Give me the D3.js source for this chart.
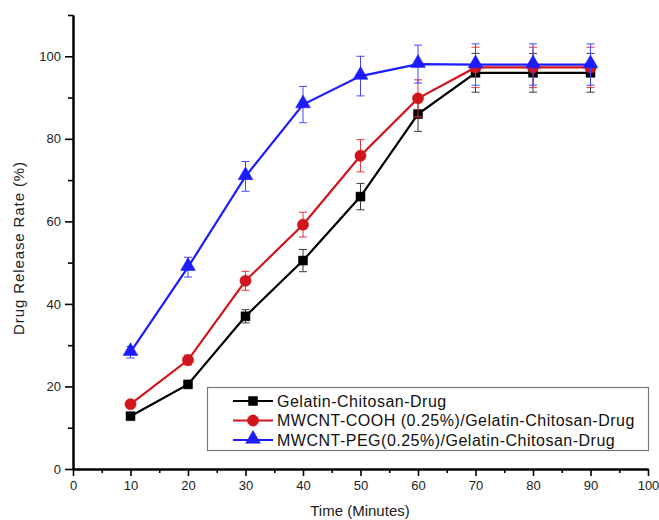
<!DOCTYPE html>
<html>
<head>
<meta charset="utf-8">
<script src="https://cdn.jsdelivr.net/npm/d3@7"></script>
<style>
  html, body { margin: 0; padding: 0; background: #fff; }
  svg { display: block; font-family: "Liberation Sans", Arial, sans-serif; }
</style>
</head>
<body>
<svg id="chart" width="659" height="520"></svg>
<script>
// ---- data ----
const times = [10, 20, 30, 40, 50, 60, 70, 80, 90];
const gcd     = [12.8, 20.5, 37.0, 50.5, 66.0, 86.0, 96.0, 96.0, 96.0];
const gcdErr  = [0.6, 0.6, 1.6, 2.7, 3.2, 4.2, 4.7, 4.7, 4.7];
const cooh    = [15.7, 26.4, 45.6, 59.2, 75.9, 89.8, 97.3, 97.3, 97.3];
const coohErr = [0.5, 1.2, 2.3, 3.0, 3.9, 4.5, 4.9, 4.9, 4.9];
const peg     = [28.3, 48.9, 70.9, 88.3, 95.2, 98.1, 98.0, 98.0, 98.0];
const pegErr  = [1.4, 2.4, 3.6, 4.4, 4.8, 4.6, 5.0, 5.0, 5.0];
const seriesNames = [
  "Gelatin-Chitosan-Drug",
  "MWCNT-COOH (0.25%)/Gelatin-Chitosan-Drug",
  "MWCNT-PEG(0.25%)/Gelatin-Chitosan-Drug"
];
const xTicks = [0, 10, 20, 30, 40, 50, 60, 70, 80, 90, 100];
const yTicks = [0, 20, 40, 60, 80, 100];
const xLabel = "Time (Minutes)";
const yLabel = "Drug Release Rate (%)";

const series = [
  { name: seriesNames[0], values: gcd,  err: gcdErr,  color: "#000000", errColor: "#3a3a3a", marker: "square" },
  { name: seriesNames[1], values: cooh, err: coohErr, color: "#d0161c", errColor: "#e0383c", marker: "circle" },
  { name: seriesNames[2], values: peg,  err: pegErr,  color: "#1c1cff", errColor: "#4646ff", marker: "triangle" }
];

// ---- layout ----
const svg = d3.select("#chart");
const mLeft = 73, mRight = 648, mTop = 15, mBottom = 469;
const x = d3.scaleLinear().domain([0, 100]).range([mLeft, mRight]);
const y = d3.scaleLinear().domain([0, 110]).range([mBottom, mTop]);

// axes
const xAxis = d3.axisBottom(x).tickValues(xTicks).tickSize(7).tickSizeOuter(0).tickPadding(5);
const xMinor = d3.axisBottom(x).tickValues(d3.range(5, 100, 10)).tickSize(4).tickSizeOuter(0).tickFormat("");
const yAxis = d3.axisLeft(y).tickValues(yTicks).tickSize(8).tickSizeOuter(0).tickPadding(4);
const yMinor = d3.axisLeft(y).tickValues(d3.range(10, 111, 20)).tickSize(5).tickSizeOuter(0).tickFormat("");

function styleAxis(g) {
  g.select(".domain").attr("stroke", "#000").attr("stroke-width", 2);
  g.selectAll(".tick line").attr("stroke", "#000").attr("stroke-width", 1.6);
  g.selectAll(".tick text").attr("fill", "#222").style("font-size", "13px")
    .style("font-family", "'Liberation Sans', Arial, sans-serif");
}
svg.append("g").attr("transform", `translate(0,${mBottom})`).call(xMinor).call(styleAxis);
svg.append("g").attr("transform", `translate(0,${mBottom})`).call(xAxis).call(styleAxis);
svg.append("g").attr("transform", `translate(${mLeft},0)`).call(yMinor).call(styleAxis);
svg.append("g").attr("transform", `translate(${mLeft},0)`).call(yAxis).call(styleAxis);

// axis titles
svg.append("text").attr("x", 360).attr("y", 516).attr("text-anchor", "middle")
  .style("font-size", "15px").attr("fill", "#222").text(xLabel);
svg.append("text").attr("transform", "translate(24,248) rotate(-90)").attr("text-anchor", "middle")
  .style("font-size", "15px").style("letter-spacing", "0.9px").attr("fill", "#222").text(yLabel);

// marker drawing
const symbolFor = {
  square: d3.symbol().type(d3.symbolSquare).size(81),
  circle: d3.symbol().type(d3.symbolCircle).size(100),
  triangle: d3.symbol().type(d3.symbolTriangle).size(95)
};
function drawMarker(g, type, cx, cy, color) {
  g.append("path").attr("d", symbolFor[type]())
    .attr("transform", `translate(${cx},${cy + (type === "triangle" ? -1 : 0)})`)
    .attr("fill", color).attr("stroke", color).attr("stroke-width", 0.5);
}

const line = d3.line().x(d => x(d[0])).y(d => y(d[1]));
series.forEach(s => {
  const g = svg.append("g");
  const pts = times.map((t, i) => [t, s.values[i], s.err[i]]);
  // error bars
  pts.forEach(p => {
    const cx = x(p[0]), y1 = y(p[1] + p[2]), y2 = y(p[1] - p[2]);
    g.append("line").attr("x1", cx).attr("x2", cx).attr("y1", y1).attr("y2", y2)
      .attr("stroke", s.errColor).attr("stroke-width", 1);
    [y1, y2].forEach(yy => g.append("line").attr("x1", cx - 4).attr("x2", cx + 4)
      .attr("y1", yy).attr("y2", yy).attr("stroke", s.errColor).attr("stroke-width", 1));
  });
  g.append("path").datum(pts).attr("d", line).attr("fill", "none")
    .attr("stroke", s.color).attr("stroke-width", 2.2);
  pts.forEach(p => drawMarker(g, s.marker, x(p[0]), y(p[1]), s.color));
});

// legend
const lg = svg.append("g");
lg.append("rect").attr("x", 207.5).attr("y", 387.5).attr("width", 441).attr("height", 63)
  .attr("fill", "#fff").attr("stroke", "#777").attr("stroke-width", 1.2);
series.forEach((s, i) => {
  const cy = 401 + i * 19.5;
  lg.append("line").attr("x1", 233).attr("x2", 273).attr("y1", cy).attr("y2", cy)
    .attr("stroke", s.color).attr("stroke-width", 2.2);
  drawMarker(lg, s.marker, 253, cy, s.color);
  lg.append("text").attr("x", 277).attr("y", cy + 5.5).style("font-size", "16px")
    .style("letter-spacing", "0.5px").attr("fill", "#111").text(s.name);
});
</script>
</body>
</html>
